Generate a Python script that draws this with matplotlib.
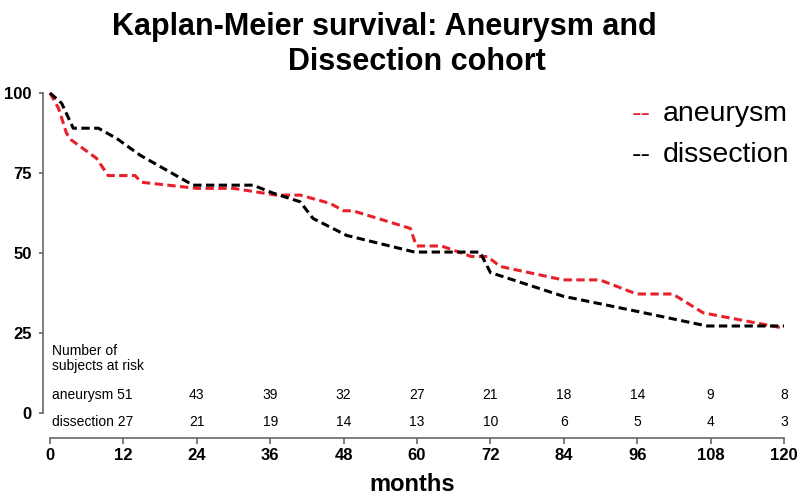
import matplotlib
matplotlib.use("Agg")
import matplotlib.pyplot as plt

plt.rcParams['font.family'] = ['Liberation Sans', 'DejaVu Sans']

# ---- data ----
aneurysm_months = [0, 1.4, 2.7, 3.5, 7.6, 9.5, 13.9, 15.0, 24.0, 30.0, 37.0, 40.9, 45.8,
                   48.0, 49.5, 58.9, 59.9, 64.0, 68.9, 71.5, 73.6, 83.9, 89.9, 95.9,
                   101.8, 106.8, 120]
aneurysm_surv = [100, 95.2, 87.4, 85.3, 79.6, 74.2, 74.2, 72.1, 70.2, 70.2, 68.1, 68.1, 65.5,
                 63.2, 63.2, 57.7, 52.2, 52.2, 48.9, 48.9, 45.8, 41.6, 41.6, 37.2,
                 37.2, 31.3, 26.5]

dissection_months = [0, 1.9, 3.8, 7.9, 10.9, 14.7, 23.4, 33.2, 36.5, 40.9, 43.0, 48.5,
                     59.6, 70.3, 72.0, 83.9, 95.9, 107.4, 120]
dissection_surv = [100, 96.8, 89, 89, 85.8, 80.6, 71.2, 71.2, 68.7, 66.0, 60.8, 55.5,
                   50.3, 50.3, 43.9, 36.5, 31.8, 27.2, 27.2]

x_ticks = [0, 12, 24, 36, 48, 60, 72, 84, 96, 108, 120]
y_ticks = [0, 25, 50, 75, 100]

risk_months = [24, 36, 48, 60, 72, 84, 96, 108, 120]
aneurysm_risk = [43, 39, 32, 27, 21, 18, 14, 9, 8]
dissection_risk = [21, 19, 14, 13, 10, 6, 5, 4, 3]
aneurysm_risk0 = 51
dissection_risk0 = 27

RED = '#E8202A'
SPINE = '#5a5a5a'
W, H = 800, 497

fig = plt.figure(figsize=(W / 100, H / 100), dpi=100)
ax = fig.add_axes([43 / W, 1 - 438 / H, (784 - 43) / W, (438 - 93) / H])
ax.set_xlim(-1.145, 120)
ax.set_ylim(-7.8, 100)

plt.rcParams['lines.scale_dashes'] = False
ax.plot(aneurysm_months, aneurysm_surv, color=RED, lw=2.2, dashes=(6, 3.2),
        clip_on=False, solid_capstyle='butt', dash_capstyle='butt', zorder=3)
ax.plot(dissection_months, dissection_surv, color='black', lw=2.2, dashes=(6, 3.2),
        clip_on=False, dash_capstyle='butt', zorder=3)

for s in ['top', 'right']:
    ax.spines[s].set_visible(False)
ax.spines['left'].set_bounds(0, 100)
ax.spines['bottom'].set_bounds(0, 120)
for s in ['left', 'bottom']:
    ax.spines[s].set_color(SPINE)
    ax.spines[s].set_linewidth(1.1)

ax.set_xticks(x_ticks)
ax.set_xticklabels([str(t) for t in x_ticks], fontsize=12, fontweight='bold')
ax.set_yticks(y_ticks)
ax.set_yticklabels([str(t) for t in y_ticks], fontsize=12, fontweight='bold')
ax.tick_params(axis='x', direction='out', length=4.5, width=1.1, color=SPINE, pad=3)
ax.tick_params(axis='y', direction='out', length=3, width=1.1, color=SPINE, pad=5)

# number at risk table
ax.text(0.33, 21.5, "Number of\nsubjects at risk", fontsize=10, va='top', ha='left',
        linespacing=1.1)
ax.text(0.33, 5.6, f"aneurysm {aneurysm_risk0}", fontsize=10, va='center', ha='left')
ax.text(0.33, -2.8, f"dissection {dissection_risk0}", fontsize=10, va='center', ha='left')
for m, a, d in zip(risk_months, aneurysm_risk, dissection_risk):
    ax.text(m, 5.6, str(a), fontsize=10, va='center', ha='center')
    ax.text(m, -2.8, str(d), fontsize=10, va='center', ha='center')

# title (two lines)
fig.text(384 / W, 1 - 35 / H, "Kaplan-Meier survival: Aneurysm and", fontsize=22,
         fontweight='bold', ha='center', va='baseline')
fig.text(417 / W, 1 - 70 / H, "Dissection cohort", fontsize=22,
         fontweight='bold', ha='center', va='baseline')

# x label
fig.text(412 / W, 1 - 491 / H, "months", fontsize=17, fontweight='bold',
         ha='center', va='baseline')

# legend as text
fig.text(632 / W, 1 - 121 / H, "--", fontsize=20.5, color=RED, ha='left', va='baseline')
fig.text(663 / W, 1 - 121 / H, "aneurysm", fontsize=20.5, color='black', ha='left', va='baseline')
fig.text(632 / W, 1 - 162 / H, "--", fontsize=20.5, color='black', ha='left', va='baseline')
fig.text(663 / W, 1 - 162 / H, "dissection", fontsize=20.5, color='black', ha='left', va='baseline')

fig.savefig("out.png", dpi=100)
